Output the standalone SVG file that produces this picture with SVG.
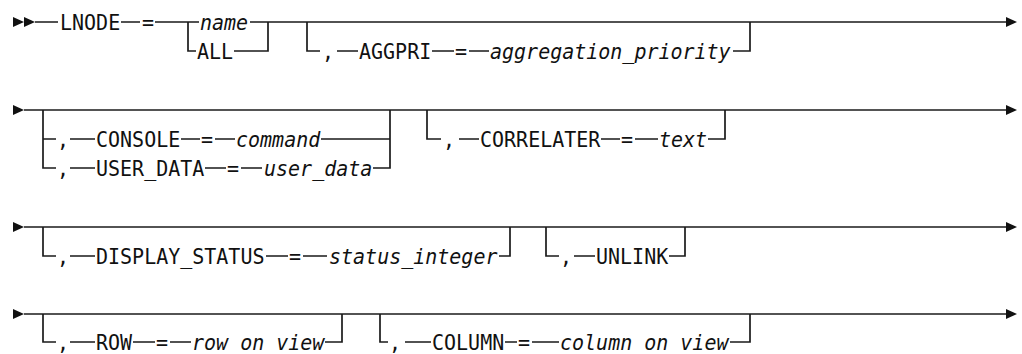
<svg xmlns="http://www.w3.org/2000/svg" width="1022" height="354" viewBox="0 0 1022 354">
<style>
text{font-family:"DejaVu Sans Mono","Liberation Mono",monospace;font-size:21.5px;fill:#111}
.v{font-style:italic}
.c path{fill:none;stroke:#1a1a1a;stroke-width:1.7}
.a{fill:#111}
</style>
<rect width="1022" height="354" fill="#fff"/>
<g id="connectors" class="c">
<polygon class="a" points="13,17 24,22 13,27"/><polygon class="a" points="24,17 35,22 24,27"/>
<path d="M35,22H58M121,22H140M155,22H199M250,22H1006"/>
<path d="M188,22V51H196M234,51H268V22"/>
<path d="M307,22V51H320M337,51H358M432,51H454M469,51H489M733,51H750V22"/>
<polygon class="a" points="1006,17 1017,22 1006,27"/>
<polygon class="a" points="13,105 24,110 13,115"/>
<path d="M24,110H1006"/>
<path d="M43,110V168H56M43,139H56M70,139H95M181,139H200M215,139H235M321,139H390M70,168H95M205,168H226M241,168H262M373,168H390V110"/>
<path d="M427,110V139H441M459,139H479M601,139H620M635,139H658M708,139H725V110"/>
<polygon class="a" points="1006,105 1017,110 1006,115"/>
<polygon class="a" points="13,222 24,227 13,232"/>
<path d="M24,227H1006"/>
<path d="M43,227V256H56M70,256H95M266,256H288M303,256H327M499,256H510V227"/>
<path d="M546,227V256H559M574,256H595M669,256H685V227"/>
<polygon class="a" points="1006,222 1017,227 1006,232"/>
<polygon class="a" points="13,309 24,314 13,319"/>
<path d="M24,314H1006"/>
<path d="M43,314V342H56M70,342H95M133,342H155M170,342H191M325,342H342V314"/>
<path d="M380,314V342H388M405,342H431M505,342H517M532,342H559M730,342H750V314"/>
<polygon class="a" points="1006,309 1017,314 1006,319"/>
</g>
<g id="n-lnode"><text transform="translate(60,30) scale(.93,1)">LNODE</text><text transform="translate(142,30) scale(.93,1)">=</text></g>
<g id="n-name"><text class="v" transform="translate(200,30) scale(.93,1)">name</text></g>
<g id="n-all"><text transform="translate(197,59) scale(.93,1)">ALL</text></g>
<g id="n-aggpri"><text transform="translate(322,59) scale(.93,1)">,</text><text transform="translate(359,59) scale(.93,1)">AGGPRI</text><text transform="translate(455,59) scale(.93,1)">=</text><text class="v" transform="translate(490,59) scale(.93,1)">aggregation_priority</text></g>
<g id="n-console"><text transform="translate(57,147) scale(.93,1)">,</text><text transform="translate(96,147) scale(.93,1)">CONSOLE</text><text transform="translate(201,147) scale(.93,1)">=</text><text class="v" transform="translate(236,147) scale(.93,1)">command</text></g>
<g id="n-userdata"><text transform="translate(57,176) scale(.93,1)">,</text><text transform="translate(96,176) scale(.93,1)">USER_DATA</text><text transform="translate(227,176) scale(.93,1)">=</text><text class="v" transform="translate(264,176) scale(.93,1)">user_data</text></g>
<g id="n-correlater"><text transform="translate(443,147) scale(.93,1)">,</text><text transform="translate(480,147) scale(.93,1)">CORRELATER</text><text transform="translate(621,147) scale(.93,1)">=</text><text class="v" transform="translate(659,147) scale(.93,1)">text</text></g>
<g id="n-display"><text transform="translate(57,264) scale(.93,1)">,</text><text transform="translate(96,264) scale(.93,1)">DISPLAY_STATUS</text><text transform="translate(289,264) scale(.93,1)">=</text><text class="v" transform="translate(329,264) scale(.93,1)">status_integer</text></g>
<g id="n-unlink"><text transform="translate(560,264) scale(.93,1)">,</text><text transform="translate(596,264) scale(.93,1)">UNLINK</text></g>
<g id="n-row"><text transform="translate(57,349.5) scale(.93,1)">,</text><text transform="translate(96,349.5) scale(.93,1)">ROW</text><text transform="translate(156,349.5) scale(.93,1)">=</text><text class="v" transform="translate(192,349.5) scale(.93,1)">row on view</text></g>
<g id="n-column"><text transform="translate(389,349.5) scale(.93,1)">,</text><text transform="translate(432,349.5) scale(.93,1)">COLUMN</text><text transform="translate(518,349.5) scale(.93,1)">=</text><text class="v" transform="translate(560,349.5) scale(.93,1)">column on view</text></g>
</svg>
